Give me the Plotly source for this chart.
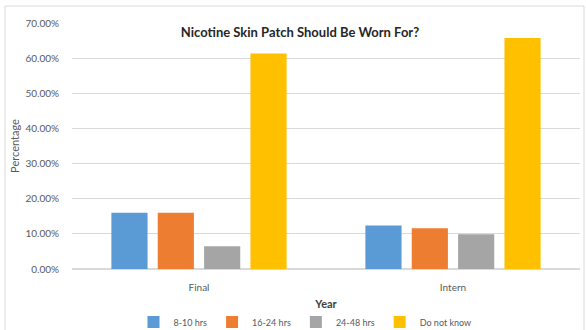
import plotly.graph_objects as go

categories = ["Final", "Intern"]
series_names = ["8-10 hrs", "16-24 hrs", "24-48 hrs", "Do not know"]
vals_8_10 = [0.160, 0.124]
vals_16_24 = [0.160, 0.116]
vals_24_48 = [0.065, 0.099]
vals_dnk = [0.613, 0.657]
colors = ["#5B9BD5", "#ED7D31", "#A5A5A5", "#FFC000"]

W, H = 586, 330
L, R, T, B = 72, 6, 23, 61

fig = go.Figure()
for name, vals, c in zip(series_names, [vals_8_10, vals_16_24, vals_24_48, vals_dnk], colors):
    fig.add_trace(go.Bar(x=categories, y=vals, name=name, marker=dict(color=c, line=dict(width=0))))

pw = W - L - R
ph = H - T - B
fig.update_layout(
    width=W, height=H,
    margin=dict(l=L, r=R, t=T, b=B, autoexpand=False),
    paper_bgcolor="white", plot_bgcolor="white",
    barmode="group", bargap=0.27, bargroupgap=0.22,
    font=dict(family="Lato, Liberation Sans, sans-serif", color="#595959", size=10),
    title=dict(text="<b>Nicotine Skin Patch Should Be Worn For?</b>",
               x=(300 - L) / pw, xref="paper", xanchor="center",
               y=1 - 32 / H, yref="container", yanchor="middle",
               font=dict(size=13, color="#262626", family="Lato, Liberation Sans, sans-serif")),
    xaxis=dict(title=dict(text="<b>Year</b>", font=dict(size=11, color="#404040"), standoff=8),
               showline=True, linecolor="#D9D9D9", ticks="", ticklabelstandoff=9,
               tickfont=dict(size=10, color="#595959"), automargin=False),
    yaxis=dict(title=dict(text="Percentage", font=dict(size=11, color="#595959"), standoff=3),
               range=[0, 0.7], dtick=0.1, tickformat=".2%",
               showgrid=True, gridcolor="#D9D9D9", zeroline=True, zerolinecolor="#D9D9D9",
               ticks="", ticklabelstandoff=12, tickfont=dict(size=10, color="#595959"),
               automargin=False),
    legend=dict(orientation="h", x=(305 - L) / pw, xanchor="center",
                y=(269 - 322) / ph, yanchor="middle", tracegroupgap=0,
                font=dict(size=9, color="#595959"), itemwidth=30),
    showlegend=True,
)
fig.add_shape(type="rect", xref="paper", yref="paper",
              x0=(5 - L) / pw, x1=(584 - L) / pw, y0=(269 - 340) / ph, y1=1 + (T - 6) / ph,
              line=dict(color="#D9D9D9", width=1), fillcolor="rgba(0,0,0,0)", layer="below")
fig.write_html("out.html")
